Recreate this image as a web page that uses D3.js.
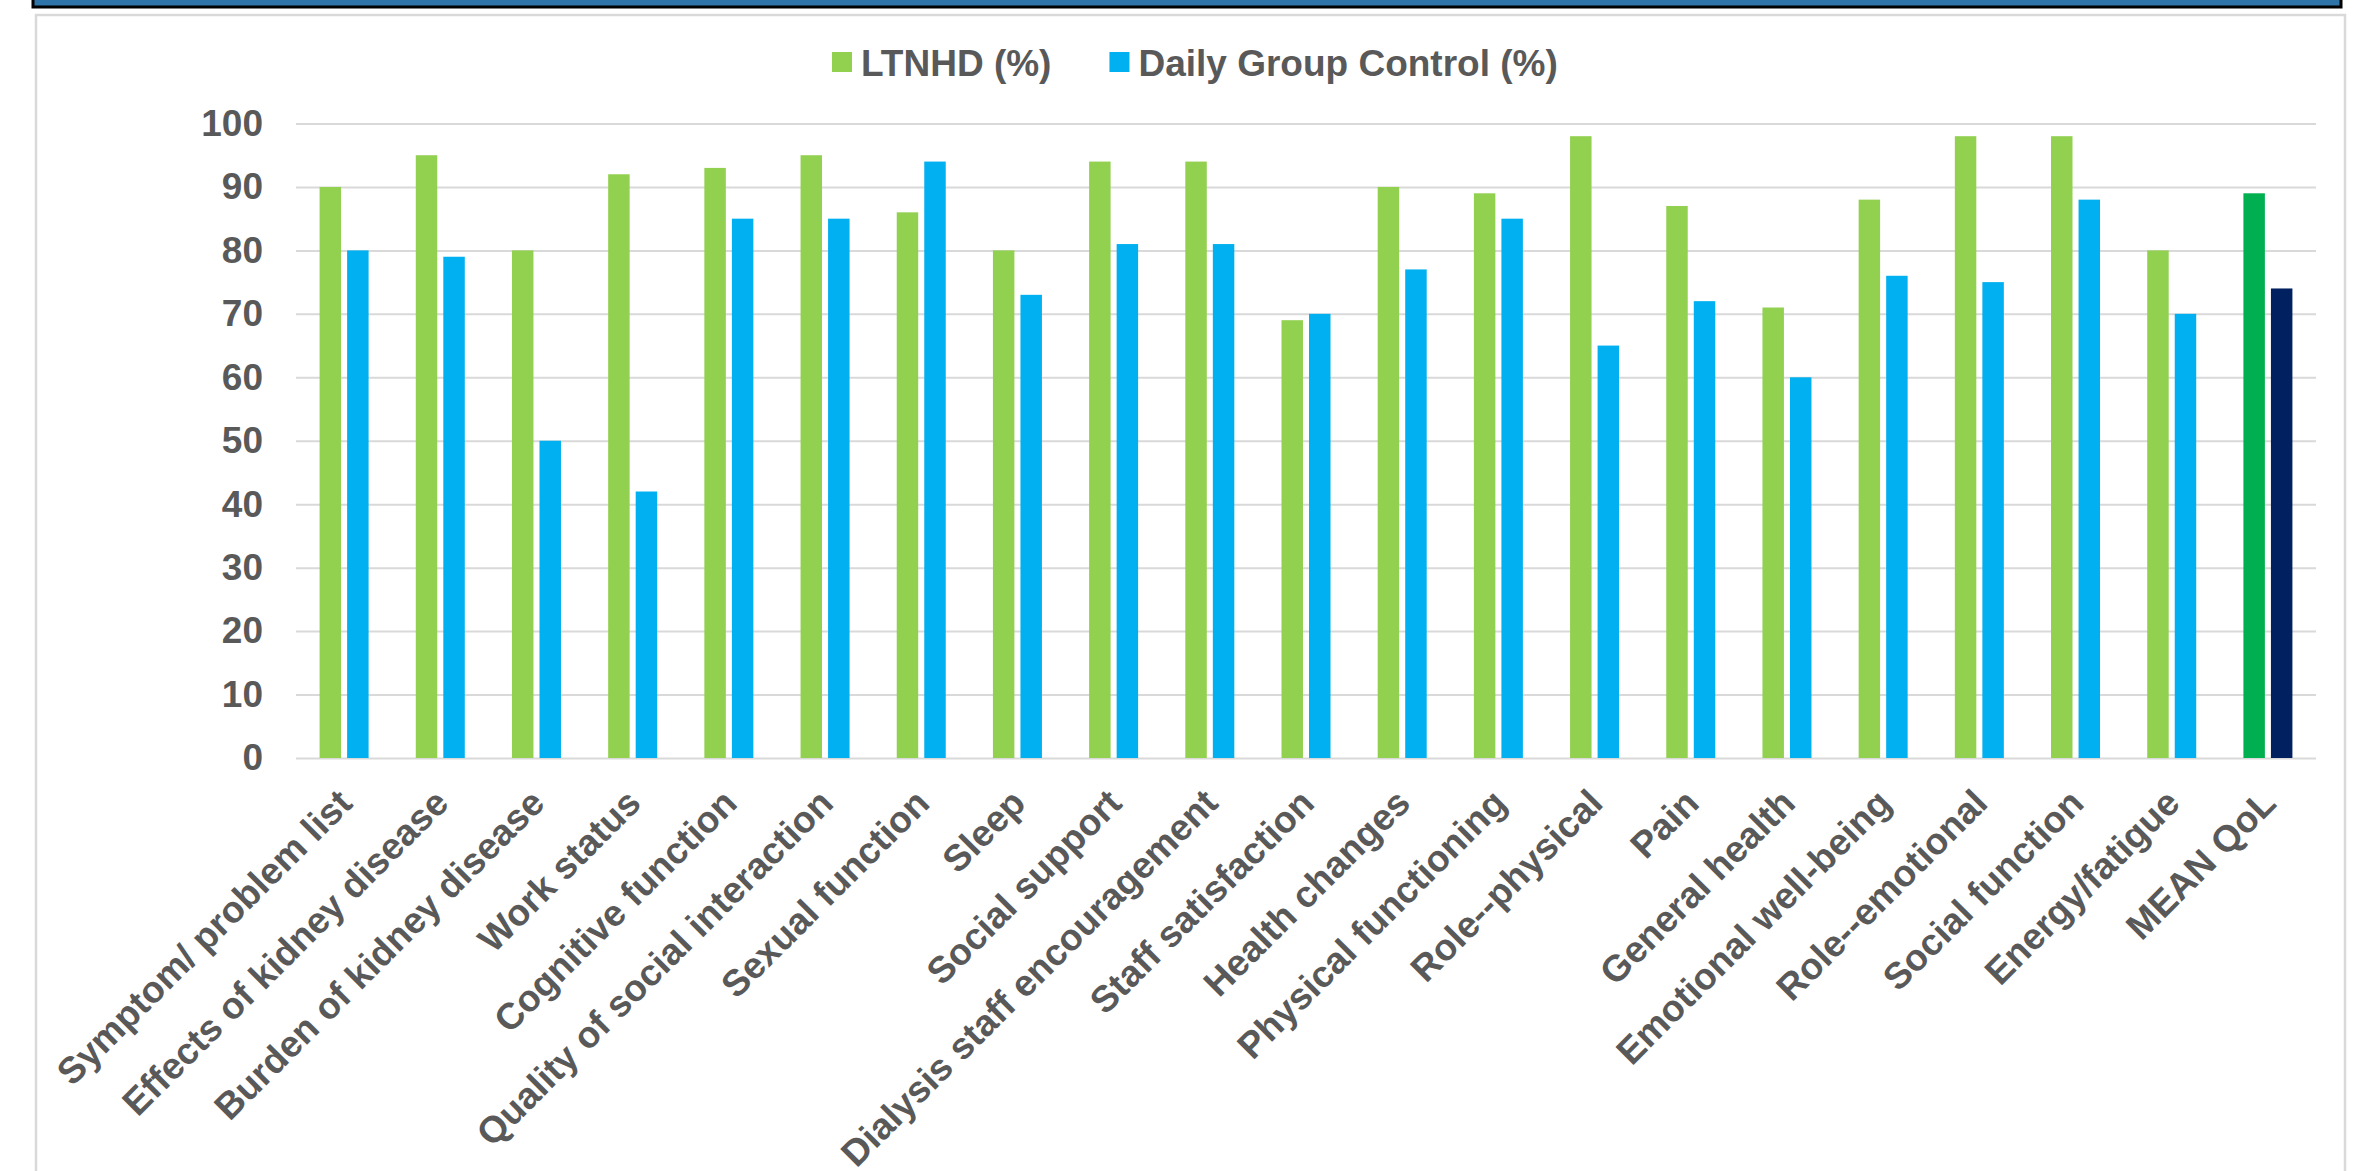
<!DOCTYPE html>
<html>
<head>
<meta charset="utf-8">
<script src="https://cdn.jsdelivr.net/npm/d3@7"></script>
<style>
  body { margin: 0; background: #fff; }
  svg text { font-family: "Liberation Sans", Arial, sans-serif; font-weight: bold; fill: #595959; }
</style>
</head>
<body>
<div id="viz"></div>
<script>
var categories = ["Symptom/ problem list", "Effects of kidney disease", "Burden of kidney disease",
  "Work status", "Cognitive function", "Quality of social interaction", "Sexual function", "Sleep",
  "Social support", "Dialysis staff encouragement", "Staff satisfaction", "Health changes",
  "Physical functioning", "Role--physical", "Pain", "General health", "Emotional well-being",
  "Role--emotional", "Social function", "Energy/fatigue", "MEAN QoL"];
var ltnhd   = [90, 95, 80, 92, 93, 95, 86, 80, 94, 94, 69, 90, 89, 98, 87, 71, 88, 98, 98, 80, 89];
var control = [80, 79, 50, 42, 85, 85, 94, 73, 81, 81, 70, 77, 85, 65, 72, 60, 76, 75, 88, 70, 74];
var seriesNames = ["LTNHD (%)", "Daily Group Control (%)"];
var yTicks = [0, 10, 20, 30, 40, 50, 60, 70, 80, 90, 100];

var width = 2361;
var height = 1171;
var colors = ["#92d050", "#00b0f0"];
var meanColors = ["#00b050", "#002060"];

var svg = d3.select("#viz")
  .append("svg")
  .attr("width", width)
  .attr("height", height);

// header strip at top
svg.append("rect")
  .attr("x", 33).attr("y", -6)
  .attr("width", 2308).attr("height", 13)
  .attr("fill", "#2e74a8")
  .attr("stroke", "#000")
  .attr("stroke-width", 3);

// chart panel
svg.append("rect")
  .attr("x", 36).attr("y", 15)
  .attr("width", 2309).attr("height", 1200)
  .attr("fill", "#fff")
  .attr("stroke", "#d9d9d9")
  .attr("stroke-width", 2.5);

var x = d3.scaleBand().domain(categories).range([296, 2316]);
var y = d3.scaleLinear().domain([0, 100]).range([758, 123.5]);
var sub = d3.scaleBand().domain([0, 1]).range([-24.5, 24.5]).paddingInner(0.22);

// gridlines + y labels
var yAxis = svg.append("g")
  .attr("transform", "translate(296,0)")
  .call(d3.axisLeft(y).tickValues(yTicks).tickSize(-(2316 - 296)).tickPadding(33));
yAxis.select(".domain").remove();
yAxis.selectAll("line").attr("stroke", "#d9d9d9").attr("stroke-width", 2);
yAxis.selectAll("text")
  .attr("font-size", 37)
  .attr("font-family", null)
  .attr("fill", "#595959");

// bars
var series = [ltnhd, control];
for (var s = 0; s < series.length; s++) {
  svg.append("g").selectAll("rect")
    .data(categories)
    .enter().append("rect")
    .attr("x", function (d) { return x(d) + x.bandwidth() / 2 + sub(s); })
    .attr("y", function (d, i) { return y(series[s][i]); })
    .attr("width", sub.bandwidth())
    .attr("height", function (d, i) { return y(0) - y(series[s][i]); })
    .attr("fill", function (d, i) { return i == categories.length - 1 ? meanColors[s] : colors[s]; });
}

// category labels
var xAxis = svg.append("g")
  .attr("transform", "translate(0,758)")
  .call(d3.axisBottom(x).tickSize(0));
xAxis.select(".domain").remove();
xAxis.selectAll("text")
  .attr("font-size", 37)
  .attr("font-family", null)
  .attr("fill", "#595959")
  .attr("x", 0).attr("y", 0)
  .attr("dy", "0.35em")
  .attr("transform", "translate(1,38) rotate(-45)")
  .style("text-anchor", "end");

// legend
var legend = svg.append("g");
var lx = 832;
for (var k = 0; k < seriesNames.length; k++) {
  legend.append("rect")
    .attr("x", lx).attr("y", 52)
    .attr("width", 20).attr("height", 20)
    .attr("fill", colors[k]);
  var t = legend.append("text")
    .attr("x", lx + 29).attr("y", 76)
    .attr("font-size", 37)
    .text(seriesNames[k]);
  lx += 29 + t.node().getComputedTextLength() + 58;
}
</script>
</body>
</html>
